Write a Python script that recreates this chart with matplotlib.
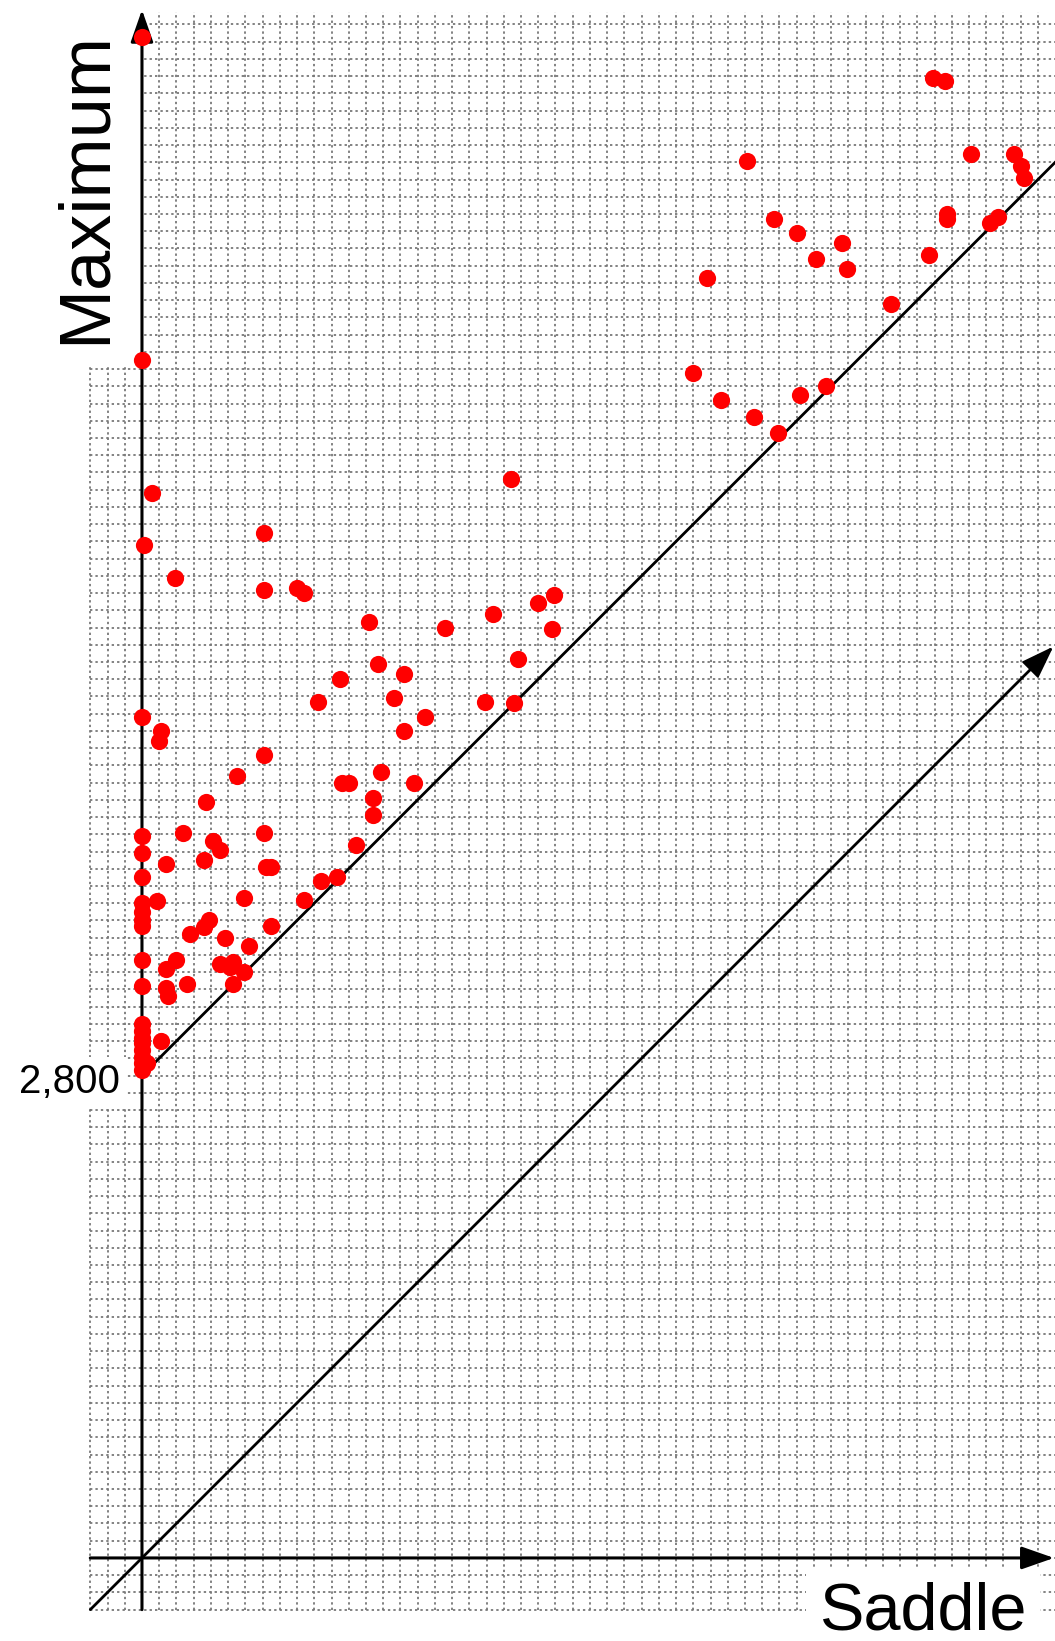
import numpy as np
import matplotlib.pyplot as plt

plt.rcParams['font.family'] = ['Liberation Sans', 'DejaVu Sans']

# critical pairs (saddle, maximum)
saddle = [0, 0, 60, 10, 190, 0, 110, 100, 0, 0, 0,
          0, 0, 0, 0, 90, 0, 0,
          0, 0, 0, 0, 0, 0, 0, 0, 30, 110,
          140, 240, 370, 550, 710, 710, 410, 450, 360, 720, 750,
          590, 750, 390, 360, 280, 480, 620, 200, 140, 450, 530, 510,
          590, 530, 260, 140, 150,
          940, 1040, 1130, 1240, 1340, 1340, 1160, 1200, 1390, 1580,
          1520, 1640, 1460, 1020, 1150, 1520, 1370, 1320, 710, 710, 900, 940,
          1760, 2040, 2300, 2390, 2380, 2180, 1990, 2160, 2140,
          3200, 3360, 3550, 3690, 3820, 3970, 3280, 3510, 3670, 3800,
          3910, 4060, 4090, 4350, 4570, 4670, 4670, 4970, 4920,
          4810, 5060, 5100, 5120, 4590, 4660]
maximum = [8830, 6950, 6180, 5880, 5690, 4880, 4800, 4740, 4190, 4090, 3950,
           3800, 3750, 3700, 3670, 3810, 3470, 3320,
           3100, 3060, 3020, 2990, 2950, 2910, 2870, 2830, 2870, 3000,
           4030, 4210, 4390, 4540, 4660, 4210, 4160, 4110, 4050, 4010, 4010,
           3830, 3670, 3700, 3660, 3620, 3600, 3550, 3470, 3420, 3450, 3460, 3430,
           3400, 3330, 3330, 3310, 3260,
           3820, 3930, 3950, 4140, 4310, 4410, 4500, 4500, 4560, 4500,
           4800, 4880, 4990, 4970, 5100, 5130, 5190, 5430, 5950, 5620, 5630, 5600,
           5400, 5480, 5540, 5590, 5390, 5220, 4970, 4960, 6260,
           6880, 6720, 6620, 6530, 6750, 6800, 7430, 8110, 7770, 7690,
           7540, 7630, 7480, 7280, 7560, 7800, 7770, 7780, 7750,
           8150, 8150, 8080, 8010, 8590, 8570]

threshold = 2800
ytick_vals = [2800]
grid_step = 100

fig = plt.figure(figsize=(10.55, 16.41), dpi=100)
ax = fig.add_axes([0, 0, 1, 1])
ax.set_xlim(-824, 5299)
ax.set_ylim(-482, 9042)
ax.axis('off')

# dotted background grid
gx = np.arange(-300, 5201, grid_step)
gy = np.arange(-300, 8901, grid_step)
grid_kw = dict(colors='#787878', linewidth=1.3, linestyles=(0, (1.3, 1.7)), zorder=0)
ax.vlines(gx, -300, 8975, **grid_kw)
ax.hlines(gy, -300, 5300, **grid_kw)

arrow = dict(arrowstyle='-|>,head_length=1.0,head_width=0.35', mutation_scale=20,
             color='black', shrinkA=0, shrinkB=0)
# axes
ax.annotate('', xy=(5293, 0), xytext=(-300, 0), arrowprops=dict(arrow, lw=2.2), zorder=3)
ax.annotate('', xy=(0, 8985), xytext=(0, -300), arrowprops=dict(arrow, lw=2.2), zorder=3)
# diagonal y = x
ax.annotate('', xy=(5290, 5290), xytext=(-300, -300), arrowprops=dict(arrow, lw=2.0), zorder=3)
# persistence threshold y = x + 2800
ax.plot([0, 5400], [threshold, 5400 + threshold], color='black', lw=2.0, zorder=3,
        solid_capstyle='butt')

ax.plot(saddle, maximum, 'o', color='red', ms=12.4, mec='none', zorder=5)

box = dict(facecolor='white', edgecolor='none', boxstyle='square,pad=0.15')
for v in ytick_vals:
    ax.text(-125, v - 40, f'{v:,}', fontsize=29, ha='right', va='center', bbox=box, zorder=2)
ax.text(-325, 7951, 'Maximum', fontsize=52, rotation=90, ha='center', va='center',
        bbox=dict(facecolor='white', edgecolor='none', boxstyle='square,pad=0.3'), zorder=2)
ax.text(4533, -414, 'Saddle', fontsize=48, ha='center', va='baseline',
        bbox=dict(facecolor='white', edgecolor='none', boxstyle='square,pad=0.2'), zorder=2)

fig.savefig('out.png', dpi=100)
